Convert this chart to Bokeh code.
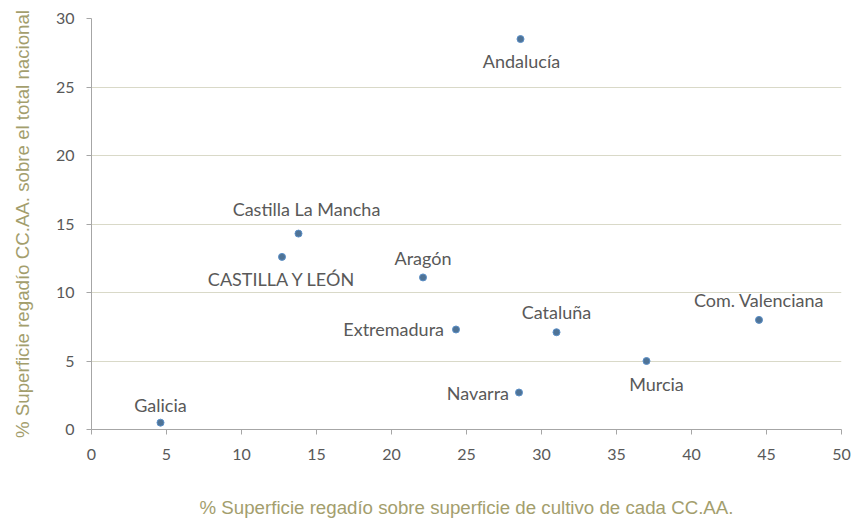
from bokeh.plotting import figure
from bokeh.models import ColumnDataSource, FixedTicker, Range1d
from bokeh.core.properties import value
from bokeh.embed import file_html
from bokeh.resources import INLINE

# data
regions = ["Andalucía", "Castilla La Mancha", "CASTILLA Y LEÓN", "Aragón", "Extremadura",
           "Cataluña", "Com. Valenciana", "Murcia", "Navarra", "Galicia"]
pct_regadio_cultivo = [28.6, 13.8, 12.7, 22.1, 24.3, 31.0, 44.5, 37.0, 28.5, 4.6]
pct_regadio_nacional = [28.5, 14.3, 12.6, 11.1, 7.3, 7.1, 8.0, 5.0, 2.7, 0.5]
x_ticks = [0, 5, 10, 15, 20, 25, 30, 35, 40, 45, 50]
y_ticks = [0, 5, 10, 15, 20, 25, 30]

# label placement (styling)
place = {
    "Andalucía": (1, 22, "center"),
    "Castilla La Mancha": (8, -25, "center"),
    "CASTILLA Y LEÓN": (0, 22, "center"),
    "Aragón": (0, -19, "center"),
    "Extremadura": (-12, 0, "right"),
    "Cataluña": (0, -20, "center"),
    "Com. Valenciana": (0, -20, "center"),
    "Murcia": (10, 23, "center"),
    "Navarra": (-10, 0, "right"),
    "Galicia": (0, -18, "center"),
}

src = ColumnDataSource(dict(
    x=pct_regadio_cultivo, y=pct_regadio_nacional, name=regions,
    dx=[place[r][0] for r in regions], dy=[place[r][1] for r in regions],
    align=[place[r][2] for r in regions],
))

p = figure(width=856, height=520, output_backend="svg", toolbar_location=None,
           x_range=Range1d(0, 50), y_range=Range1d(0, 30),
           min_border_left=91, min_border_right=15, min_border_top=18, min_border_bottom=90)
p.outline_line_color = None
p.background_fill_color = "white"

p.scatter("x", "y", source=src, size=7, fill_color="#4f7396", line_color="#5b8fc7", line_width=1)
p.text("x", "y", text="name", source=src, x_offset="dx", y_offset="dy",
       text_align="align", text_baseline="middle",
       text_font=value("Lato"), text_font_size="18px", text_color="#595959")

for ax, ticks in ((p.xaxis, x_ticks), (p.yaxis, y_ticks)):
    ax.ticker = FixedTicker(ticks=ticks)
    ax.axis_line_color = "#a6a6a6"
    ax.major_tick_line_color = "#a6a6a6"
    ax.major_tick_out = 5
    ax.major_tick_in = 0
    ax.minor_tick_line_color = None
    ax.major_label_text_font = "Lato"
    ax.major_label_text_font_size = "16px"
    ax.major_label_text_color = "#595959"
    ax.axis_label_text_font = "Liberation Sans"
    ax.axis_label_text_font_size = "18.7px"
    ax.axis_label_text_font_style = "normal"
    ax.axis_label_text_color = "#a39e6d"

p.xaxis.axis_label = "% Superficie regadío sobre superficie de cultivo de cada CC.AA."
p.yaxis.axis_label = "% Superficie regadío CC.AA. sobre el total nacional"
p.xaxis.axis_label_standoff = 34
p.yaxis.axis_label_standoff = 20
p.xaxis.major_label_standoff = 14
p.yaxis.major_label_standoff = 12

p.xgrid.grid_line_color = None
p.ygrid.grid_line_color = "#d9d9c8"
p.ygrid.grid_line_width = 1

open("out.html", "w").write(file_html(p, INLINE))
